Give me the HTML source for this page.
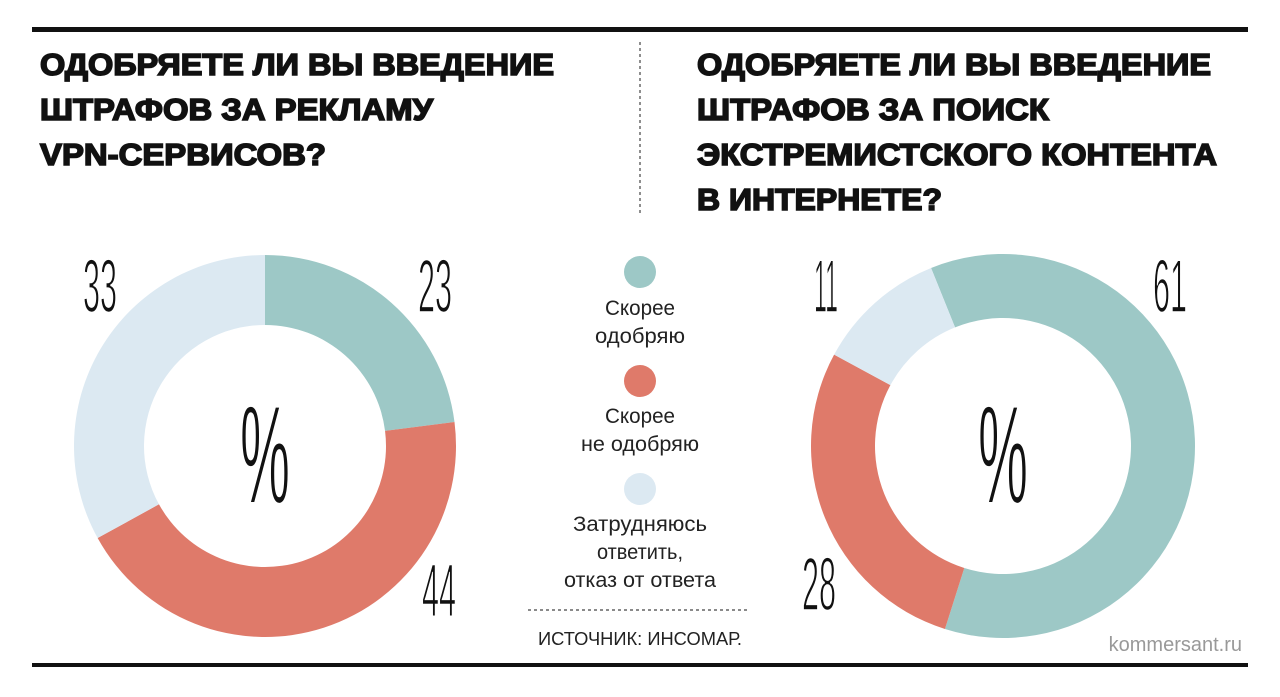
<!DOCTYPE html>
<html><head><meta charset="utf-8"><style>
html,body{margin:0;padding:0;background:#fff;}
svg{display:block;}
</style></head><body>
<svg id="chart" width="1280" height="697" viewBox="0 0 1280 697" xmlns="http://www.w3.org/2000/svg">
<rect x="32" y="27" width="1216" height="5" fill="#111"/>
<rect x="32" y="663" width="1216" height="4" fill="#111"/>
<line x1="640" y1="42" x2="640" y2="213" stroke="#444" stroke-width="1.2" stroke-dasharray="3,3"/>
<g font-family="Liberation Sans, sans-serif" font-weight="bold" font-size="31" fill="#111" stroke="#111" stroke-width="1.6">
<text x="40" y="75" textLength="514" lengthAdjust="spacingAndGlyphs">ОДОБРЯЕТЕ ЛИ ВЫ ВВЕДЕНИЕ</text>
<text x="40" y="120" textLength="393" lengthAdjust="spacingAndGlyphs">ШТРАФОВ ЗА РЕКЛАМУ</text>
<text x="40" y="165" textLength="286" lengthAdjust="spacingAndGlyphs">VPN-СЕРВИСОВ?</text>
</g>
<g font-family="Liberation Sans, sans-serif" font-weight="bold" font-size="31" fill="#111" stroke="#111" stroke-width="1.6">
<text x="697" y="75" textLength="514" lengthAdjust="spacingAndGlyphs">ОДОБРЯЕТЕ ЛИ ВЫ ВВЕДЕНИЕ</text>
<text x="697" y="120" textLength="352" lengthAdjust="spacingAndGlyphs">ШТРАФОВ ЗА ПОИСК</text>
<text x="697" y="165" textLength="520" lengthAdjust="spacingAndGlyphs">ЭКСТРЕМИСТСКОГО КОНТЕНТА</text>
<text x="697" y="210" textLength="245" lengthAdjust="spacingAndGlyphs">В ИНТЕРНЕТЕ?</text>
</g>
<g id="donuts"></g>
<g font-family="Liberation Sans, sans-serif" font-size="21" fill="#222" text-anchor="middle">
<circle cx="640" cy="272" r="16" fill="#9dc8c6"/>
<text x="640" y="315" textLength="70" lengthAdjust="spacingAndGlyphs">Скорее</text><text x="640" y="343" textLength="90" lengthAdjust="spacingAndGlyphs">одобряю</text>
<circle cx="640" cy="381" r="16" fill="#df7a6a"/>
<text x="640" y="423" textLength="70" lengthAdjust="spacingAndGlyphs">Скорее</text><text x="640" y="451" textLength="118" lengthAdjust="spacingAndGlyphs">не одобряю</text>
<circle cx="640" cy="489" r="16" fill="#dce9f2"/>
<text x="640" y="531" textLength="134" lengthAdjust="spacingAndGlyphs">Затрудняюсь</text><text x="640" y="559" textLength="86" lengthAdjust="spacingAndGlyphs">ответить,</text><text x="640" y="587" textLength="152" lengthAdjust="spacingAndGlyphs">отказ от ответа</text>
</g>
<line x1="528" y1="610" x2="748" y2="610" stroke="#444" stroke-width="1.2" stroke-dasharray="3,3"/>
<text x="640" y="645" text-anchor="middle" font-family="Liberation Sans, sans-serif" font-size="18" fill="#222" textLength="204" lengthAdjust="spacingAndGlyphs">ИСТОЧНИК: ИНСОМАР.</text>
<text x="1242" y="651" text-anchor="end" font-family="Liberation Sans, sans-serif" font-size="20" fill="#999">kommersant.ru</text>
</svg>
<script>
const colors = ["#9dc8c6","#df7a6a","#dce9f2"];
const seriesNames = ["approve","disapprove","undecided"];
const leftValues = [23, 44, 33];
const rightValues = [61, 28, 11];
const NS = "http://www.w3.org/2000/svg";
const g = document.getElementById("donuts");
function arc(cx, cy, r0, r1, a0, a1) {
  const p = (r, a) => [cx + r * Math.sin(a), cy - r * Math.cos(a)];
  const large = (a1 - a0) > Math.PI ? 1 : 0;
  const [x0,y0]=p(r1,a0),[x1,y1]=p(r1,a1),[x2,y2]=p(r0,a1),[x3,y3]=p(r0,a0);
  return `M${x0},${y0}A${r1},${r1} 0 ${large} 1 ${x1},${y1}L${x2},${y2}A${r0},${r0} 0 ${large} 0 ${x3},${y3}Z`;
}
function donut(name, values, cx, cy, r0, r1, startDeg, labelPos) {
  const total = values.reduce((a,b)=>a+b,0);
  let a = startDeg * Math.PI / 180;
  values.forEach((v, i) => {
    const a1 = a + v / total * 2 * Math.PI;
    const path = document.createElementNS(NS, "path");
    path.setAttribute("d", arc(cx, cy, r0, r1, a, a1));
    path.setAttribute("fill", colors[i]);
    
    
    g.appendChild(path);
    const t = document.createElementNS(NS, "text");
    t.setAttribute("x", labelPos[i][0]);
    t.setAttribute("y", labelPos[i][1]);
    t.setAttribute("font-family", "Liberation Sans, sans-serif");
    t.setAttribute("font-size", "75");
    t.setAttribute("fill", "#111");
    t.setAttribute("stroke", "#fff");
    t.setAttribute("stroke-width", "1.6");
    t.setAttribute("textLength", String(v) === "11" ? 24 : String(v).length * 17);
    t.setAttribute("lengthAdjust", "spacingAndGlyphs");
    t.textContent = v;
    
    
    g.appendChild(t);
    a = a1;
  });
  const pc = document.createElementNS(NS, "text");
  pc.setAttribute("x", cx - 25); pc.setAttribute("y", cy + 57);
  pc.setAttribute("font-family", "Liberation Sans, sans-serif");
  pc.setAttribute("font-size", "140");
  pc.setAttribute("fill", "#111");
  pc.setAttribute("stroke", "#fff");
  pc.setAttribute("stroke-width", "2");
  pc.setAttribute("textLength", "50");
  pc.setAttribute("lengthAdjust", "spacingAndGlyphs");
  pc.textContent = "%";
  
  
  g.appendChild(pc);
}
donut("left-donut", leftValues, 265, 446, 121, 191, 0, [[418,312],[422,616],[83,312]]);
donut("right-donut", rightValues, 1003, 446, 128, 192, -22, [[1153,312],[802,610],[814,312]]);
</script>
</body></html>
